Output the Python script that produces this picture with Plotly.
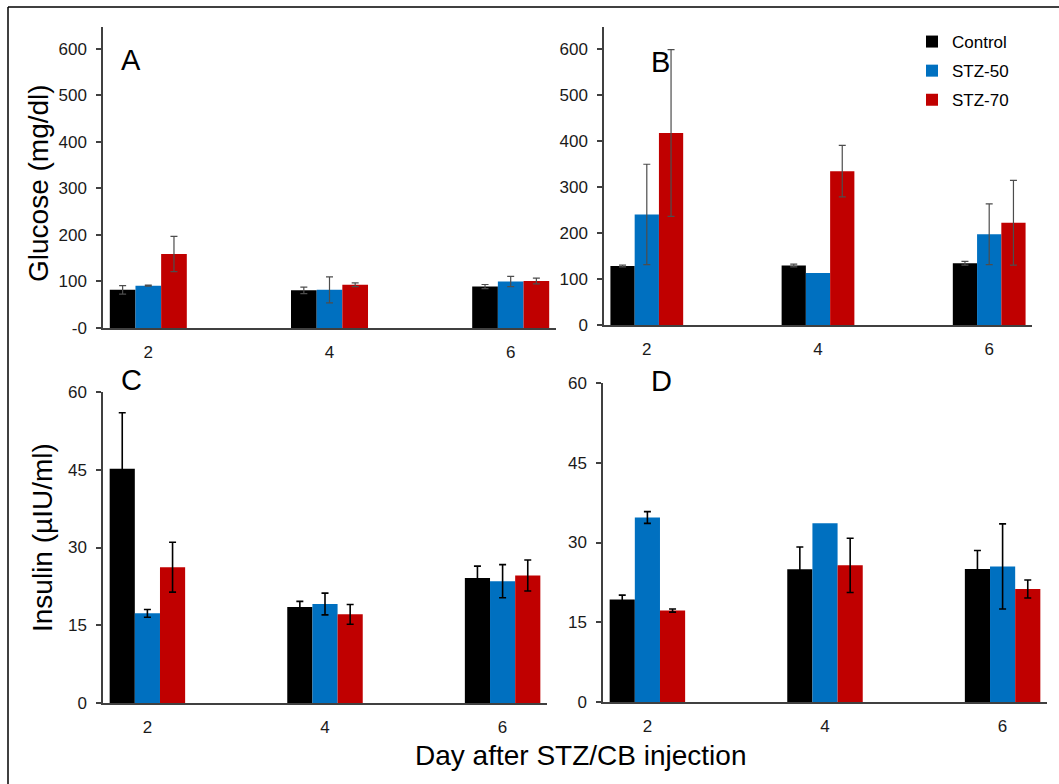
import plotly.graph_objects as go
import math

W, H = 1059, 784
NAN = float("nan")

days = [2, 4, 6]
series_names = ["Control", "STZ-50", "STZ-70"]
colors = ["#000000", "#0070C0", "#C00000"]

# Panel A: glucose (mg/dl)
gluA_control = [82, 81, 89]
gluA_control_err = [9, 7, 4.5]
gluA_stz50 = [91, 82, 100]
gluA_stz50_err = [1, 28, 11]
gluA_stz70 = [159, 93, 101]
gluA_stz70_err = [38, 4, 6]

# Panel B: glucose (mg/dl)
gluB_control = [128, 129, 134]
gluB_control_err = [2, 3, 4]
gluB_stz50 = [240, 113, 197]
gluB_stz50_err = [109, NAN, 66]
gluB_stz70 = [417, 334, 222]
gluB_stz70_err = [181, 56, 92]

# Panel C: insulin (µIU/ml)
insC_control = [45.2, 18.5, 24.1]
insC_control_err = [10.8, 1.1, 2.3]
insC_stz50 = [17.3, 19.1, 23.5]
insC_stz50_err = [0.75, 2.1, 3.2]
insC_stz70 = [26.2, 17.1, 24.6]
insC_stz70_err = [4.8, 1.9, 3.0]

# Panel D: insulin (µIU/ml)
insD_control = [19.3, 24.95, 25.0]
insD_control_err = [0.8, 4.2, 3.5]
insD_stz50 = [34.7, 33.6, 25.5]
insD_stz50_err = [1.1, NAN, 8.0]
insD_stz70 = [17.2, 25.7, 21.25]
insD_stz70_err = [0.3, 5.1, 1.7]

glu_ticks = [0, 100, 200, 300, 400, 500, 600]
gluA_ticktext = ["-0", "100", "200", "300", "400", "500", "600"]
gluB_ticktext = ["0", "100", "200", "300", "400", "500", "600"]
ins_ticks = [0, 15, 30, 45, 60]
ins_ticktext = ["0", "15", "30", "45", "60"]
tick_bounds = [1.5, 3.5, 5.5]

FONT = "Liberation Sans, Arial, sans-serif"
TICKCOL = "#1a1a1a"
AXCOL = "#404040"


def px(x):
    return x / W


def py(y):
    return 1 - y / H


def err_list(errs):
    # non-numeric entry -> plotly.js skips that error bar entirely (no cap drawn)
    return ["NaN" if (isinstance(v, float) and math.isnan(v)) else v for v in errs]


panels = [
    dict(vals=[gluA_control, gluA_stz50, gluA_stz70],
         errs=[gluA_control_err, gluA_stz50_err, gluA_stz70_err],
         xd=(103, 556), yd=(328, 27), yr=[0, 647], tv=glu_ticks, tt=gluA_ticktext,
         ec="#4d4d4d", et=1.2, letter="A", lp=(131, 60)),
    dict(vals=[gluB_control, gluB_stz50, gluB_stz70],
         errs=[gluB_control_err, gluB_stz50_err, gluB_stz70_err],
         xd=(604, 1032), yd=(325, 27), yr=[0, 647], tv=glu_ticks, tt=gluB_ticktext,
         ec="#4d4d4d", et=1.2, letter="B", lp=(660, 62)),
    dict(vals=[insC_control, insC_stz50, insC_stz70],
         errs=[insC_control_err, insC_stz50_err, insC_stz70_err],
         xd=(103, 547), yd=(703, 392), yr=[0, 60], tv=ins_ticks, tt=ins_ticktext,
         ec="#000000", et=1.6, letter="C", lp=(131, 380)),
    dict(vals=[insD_control, insD_stz50, insD_stz70],
         errs=[insD_control_err, insD_stz50_err, insD_stz70_err],
         xd=(603, 1047), yd=(702, 383), yr=[0, 60], tv=ins_ticks, tt=ins_ticktext,
         ec="#000000", et=1.6, letter="D", lp=(661, 381)),
]

fig = go.Figure()
layout = {}
annotations = []

for i, p in enumerate(panels):
    n = i + 1
    xname = "x" if n == 1 else f"x{n}"
    yname = "y" if n == 1 else f"y{n}"
    xkey = "xaxis" if n == 1 else f"xaxis{n}"
    ykey = "yaxis" if n == 1 else f"yaxis{n}"
    okey = f"xaxis{n + 4}"
    for s in range(3):
        fig.add_trace(go.Bar(
            x=days, y=p["vals"][s], name=series_names[s],
            marker=dict(color=colors[s], line=dict(width=0)),
            error_y=dict(type="data", array=err_list(p["errs"][s]),
                         visible=True, color=p["ec"], thickness=p["et"], width=3.5),
            xaxis=xname, yaxis=yname,
            showlegend=(n == 2), legendgroup=series_names[s],
        ))
    layout[xkey] = dict(
        domain=[px(p["xd"][0]), px(p["xd"][1])], anchor=yname, range=[1.5, 6.5],
        tickvals=days, ticktext=[str(d) for d in days], ticks="",
        showline=True, linecolor=AXCOL, linewidth=1.5, showgrid=False, zeroline=False,
        tickfont=dict(family=FONT, size=17, color=TICKCOL), fixedrange=True,
        ticklabelstandoff=8, automargin=False,
    )
    layout[okey] = dict(
        overlaying=xname, anchor=yname, range=[1.5, 6.5], side="bottom",
        tickvals=tick_bounds, ticks="outside", ticklen=6, tickwidth=1.5, tickcolor=AXCOL,
        showticklabels=False, showline=False, showgrid=False, zeroline=False,
        automargin=False,
    )
    layout[ykey] = dict(
        domain=[py(p["yd"][0]), py(p["yd"][1])], anchor=xname, range=p["yr"],
        tickvals=p["tv"], ticktext=p["tt"], ticks="outside", ticklen=5, tickwidth=1.5,
        tickcolor=AXCOL, showline=True, linecolor=AXCOL, linewidth=1.5,
        showgrid=False, zeroline=False, ticklabelstandoff=6,
        tickfont=dict(family=FONT, size=17, color=TICKCOL), fixedrange=True,
        automargin=False,
    )
    annotations.append(dict(
        text=p["letter"], x=px(p["lp"][0]), y=py(p["lp"][1]), xref="paper", yref="paper",
        xanchor="center", yanchor="middle", showarrow=False,
        font=dict(family=FONT, size=29, color="#000000"),
    ))

annotations += [
    dict(text="Glucose (mg/dl)", x=px(38), y=py(183), xref="paper", yref="paper",
         textangle=-90, xanchor="center", yanchor="middle", showarrow=False,
         font=dict(family=FONT, size=28, color="#000000")),
    dict(text="Insulin (µIU/ml)", x=px(42), y=py(538), xref="paper", yref="paper",
         textangle=-90, xanchor="center", yanchor="middle", showarrow=False,
         font=dict(family=FONT, size=28, color="#000000")),
    dict(text="Day after STZ/CB injection", x=px(580), y=py(755), xref="paper", yref="paper",
         xanchor="center", yanchor="middle", showarrow=False,
         font=dict(family=FONT, size=28, color="#000000")),
]

shapes = [
    dict(type="line", xref="paper", yref="paper", x0=px(8), x1=px(8), y0=0, y1=py(7),
         line=dict(color="#404040", width=2)),
    dict(type="line", xref="paper", yref="paper", x0=px(8), x1=1, y0=py(7), y1=py(7),
         line=dict(color="#000000", width=1.5)),
]

fig.update_layout(
    width=W, height=H, margin=dict(l=0, r=0, t=0, b=0, pad=0, autoexpand=False),
    paper_bgcolor="white", plot_bgcolor="white",
    barmode="group", bargap=0.575, bargroupgap=0,
    annotations=annotations, shapes=shapes,
    legend=dict(x=px(912), y=py(24), xanchor="left", yanchor="top",
                font=dict(family=FONT, size=17, color="#000000"),
                traceorder="grouped", tracegroupgap=4, bgcolor="rgba(0,0,0,0)"),
    font=dict(family=FONT),
    **layout,
)

fig.write_html("out.html")
